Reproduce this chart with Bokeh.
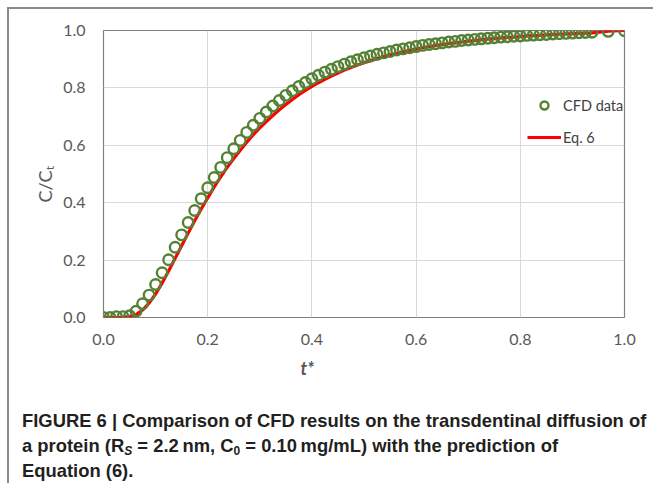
from bokeh.plotting import figure
from bokeh.models import (FixedTicker, PrintfTickFormatter, Legend, LegendItem,
                          Title, Div, ColumnDataSource)
from bokeh.layouts import column
from bokeh.embed import file_html
from bokeh.resources import INLINE

# ---------------- data ----------------
t_star = [0.0, 0.0125, 0.025, 0.0375, 0.05, 0.0625, 0.075, 0.0875, 0.1, 0.1125,
          0.125, 0.1375, 0.15, 0.1625, 0.175, 0.1875, 0.2, 0.2125, 0.225, 0.2375,
          0.25, 0.2625, 0.275, 0.2875, 0.3, 0.3125, 0.325, 0.3375, 0.35, 0.3625,
          0.375, 0.3875, 0.4, 0.4125, 0.425, 0.4375, 0.45, 0.4625, 0.475, 0.4875,
          0.5, 0.5125, 0.525, 0.5375, 0.55, 0.5625, 0.575, 0.5875, 0.6, 0.6125,
          0.625, 0.6375, 0.65, 0.6625, 0.675, 0.6875, 0.7, 0.7125, 0.725, 0.7375,
          0.75, 0.7625, 0.775, 0.7875, 0.8, 0.8125, 0.825, 0.8375, 0.85, 0.8625,
          0.875, 0.8875, 0.9, 0.9125, 0.925, 0.9375, 0.96875, 1.0]

cfd_data = [0.000, 0.000, 0.003, 0.003, 0.006, 0.022, 0.048, 0.078, 0.115, 0.156,
            0.201, 0.245, 0.288, 0.331, 0.373, 0.414, 0.452, 0.488, 0.523, 0.557,
            0.588, 0.617, 0.645, 0.670, 0.694, 0.716, 0.737, 0.756, 0.774, 0.790,
            0.805, 0.819, 0.832, 0.844, 0.855, 0.865, 0.874, 0.883, 0.891, 0.898,
            0.905, 0.911, 0.917, 0.922, 0.927, 0.932, 0.936, 0.940, 0.944, 0.948,
            0.951, 0.954, 0.957, 0.960, 0.962, 0.965, 0.967, 0.969, 0.971, 0.973,
            0.975, 0.977, 0.978, 0.980, 0.981, 0.983, 0.984, 0.985, 0.986, 0.988,
            0.989, 0.990, 0.991, 0.992, 0.993, 0.994, 0.997, 0.999]

eq6 = [0.000, 0.000, 0.000, 0.001, 0.003, 0.010, 0.026, 0.050, 0.082, 0.120,
       0.162, 0.206, 0.250, 0.294, 0.337, 0.378, 0.417, 0.455, 0.490, 0.523,
       0.554, 0.583, 0.611, 0.637, 0.661, 0.683, 0.704, 0.724, 0.742, 0.760,
       0.776, 0.791, 0.805, 0.818, 0.830, 0.841, 0.852, 0.862, 0.871, 0.880,
       0.888, 0.895, 0.902, 0.909, 0.915, 0.920, 0.926, 0.931, 0.935, 0.940,
       0.944, 0.948, 0.951, 0.954, 0.957, 0.960, 0.963, 0.965, 0.968, 0.970,
       0.972, 0.974, 0.976, 0.977, 0.979, 0.981, 0.982, 0.983, 0.985, 0.986,
       0.987, 0.988, 0.989, 0.990, 0.991, 0.992, 0.998, 1.000]

x_ticks = [0.0, 0.2, 0.4, 0.6, 0.8, 1.0]
y_ticks = [0.0, 0.2, 0.4, 0.6, 0.8, 1.0]

x_title = "t*"
y_title = "C/C\u209c"
series_names = ["CFD data", "Eq. 6"]

caption_html = (
    "FIGURE 6 | Comparison of CFD results on the transdentinal diffusion of<br>"
    "a protein (R<span style='font-size:12px;font-style:italic;vertical-align:-3px;line-height:0'>S</span>"
    " = 2.2&thinsp;nm, C<span style='font-size:12px;vertical-align:-3px;line-height:0'>0</span>"
    " = 0.10&thinsp;mg/mL) with the prediction of<br>"
    "Equation (6)."
)

# ---------------- styles ----------------
GREY_TXT = "#595959"
FONT = "Lato"

src = ColumnDataSource(dict(t=t_star, cfd=cfd_data, eq=eq6))

p = figure(width=644, height=392, x_range=(0, 1), y_range=(0, 1),
           output_backend="svg", toolbar_location=None, tools="",
           min_border_left=94, min_border_right=29, min_border_top=21,
           min_border_bottom=84)
p.background_fill_color = "white"
p.border_fill_color = "white"
p.outline_line_color = "#808080"
p.outline_line_width = 1.2

line_r = p.line("t", "eq", source=src, line_color="#ff0000", line_width=3.2)
circ_r = p.scatter("t", "cfd", source=src, marker="circle", size=10.5,
                   line_color="#548235", line_width=2.4, fill_color=None)

for ax in (p.xaxis[0], p.yaxis[0]):
    ax.axis_line_color = None
    ax.major_tick_line_color = None
    ax.minor_tick_line_color = None
    ax.major_tick_out = 0
    ax.major_tick_in = 0
    ax.major_label_text_font = FONT
    ax.major_label_text_font_size = "16px"
    ax.major_label_text_color = GREY_TXT
    ax.formatter = PrintfTickFormatter(format="%.1f")

p.xaxis[0].ticker = FixedTicker(ticks=x_ticks)
p.yaxis[0].ticker = FixedTicker(ticks=y_ticks)
p.xaxis[0].major_label_standoff = 16
p.yaxis[0].major_label_standoff = 18

p.xgrid.grid_line_color = "#d9d9d9"
p.ygrid.grid_line_color = "#d9d9d9"
p.xgrid.grid_line_width = 1
p.ygrid.grid_line_width = 1

# axis titles (placed as titles so they can sit off-centre as in the original)
p.add_layout(Title(text=x_title, align="left", offset=197, standoff=15,
                   text_font=FONT, text_font_style="bold italic",
                   text_font_size="18px", text_color=GREY_TXT), "below")
p.add_layout(Title(text=y_title, align="left", offset=115, standoff=10,
                   text_font=FONT, text_font_style="normal",
                   text_font_size="18px", text_color=GREY_TXT), "left")

legend = Legend(items=[LegendItem(label=series_names[0], renderers=[circ_r]),
                       LegendItem(label=series_names[1], renderers=[line_r])],
                location=(424, 170), padding=5, margin=0, spacing=12,
                glyph_width=34, glyph_height=20, label_standoff=2,
                label_text_font=FONT, label_text_font_size="14.5px",
                label_text_color="#404040", border_line_color=None,
                background_fill_alpha=0)
p.add_layout(legend)

cap = Div(text=("<div style=\"font-family:'Liberation Sans',Arial,sans-serif;"
                "font-weight:bold;font-size:18.4px;line-height:25px;color:#231f20;"
                "padding-left:13px;padding-top:7px;white-space:nowrap\">"
                + caption_html + "</div>"),
          width=644, height=82, margin=(0, 0, 0, 0))

layout = column(p, cap, spacing=0, margin=(7, 0, 0, 7),
                styles={"border-left": "2px solid #8a8a8a",
                        "border-top": "2px solid #8a8a8a"})

open("out.html", "w").write(file_html(layout, INLINE))
